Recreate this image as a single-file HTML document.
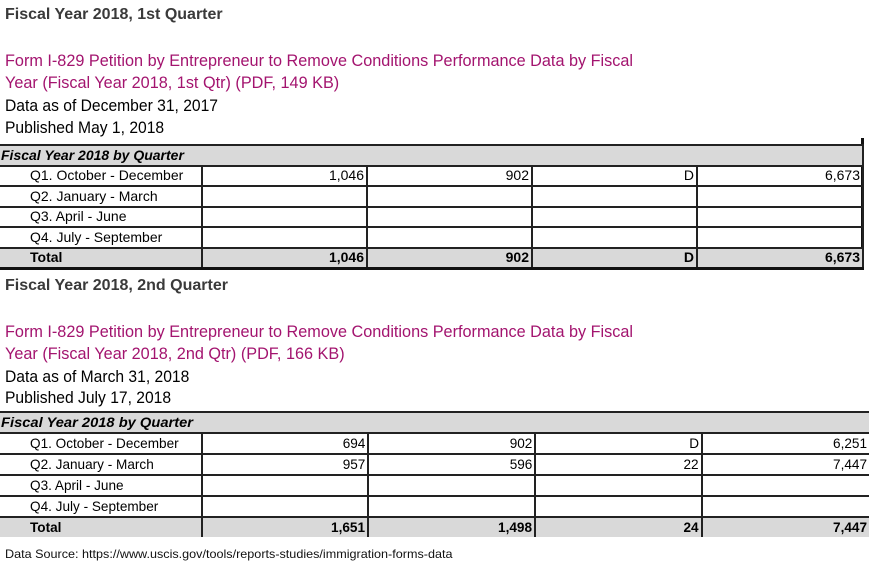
<!DOCTYPE html>
<html><head><meta charset="utf-8"><style>
body{margin:0;width:885px;height:576px;background:#fff;position:relative;overflow:hidden;font-family:"Liberation Sans",sans-serif}
.t{position:absolute;white-space:nowrap;transform-origin:0 50%;line-height:1}
.h{font-weight:bold;color:#3a3a3a;font-size:16px;transform:scaleX(1.0)}
.m{color:#a3146f;font-size:17px;transform:scaleX(.955)}
.k{color:#000;font-size:17px;transform:scaleX(.92)}
table{position:absolute;border-collapse:collapse;table-layout:fixed;font-size:14px}
td{padding:0 2px;height:18.5px;white-space:nowrap;overflow:visible;text-align:right;border:2px solid #222;line-height:17px}
.s2 td{height:19px}
td.l{text-align:left;padding-left:30px;border-left:none}
tr.hd td{background:#d9d9d9;text-align:left;padding-left:1px;font-weight:bold;font-style:italic;font-size:14px;border-left:none}
tr.tot td{background:#d9d9d9;font-weight:bold}
.s1 span{display:inline-block;transform:scaleX(1.0);transform-origin:100% 50%}
.s1 td.l span,.s2 td.l span,tr.hd td span{transform-origin:0 50%}
.s2 span{display:inline-block;transform:scaleX(.97);transform-origin:100% 50%}
.s2 tr.hd td span{transform:scaleX(1.05)}
</style></head><body>
<div class="t h" style="left:5px;top:7px">Fiscal Year 2018, 1st Quarter</div>
<div class="t m" style="left:5px;top:52px">Form I-829 Petition by Entrepreneur to Remove Conditions Performance Data by Fiscal</div>
<div class="t m" style="left:5px;top:74px">Year (Fiscal Year 2018, 1st Qtr) (PDF, 149 KB)</div>
<div class="t k" style="left:5px;top:97px">Data as of December 31, 2017</div>
<div class="t k" style="left:5px;top:119px">Published May 1, 2018</div>
<div style="position:absolute;left:861px;top:138px;width:3px;height:130px;background:#111"></div>
<table class="s1" style="left:0;top:144px;width:863px">
<col style="width:202px"><col style="width:165px"><col style="width:165px"><col style="width:165px"><col style="width:166px">
<tr class="hd"><td colspan="5"><span>Fiscal Year 2018 by Quarter</span></td></tr>
<tr><td class="l"><span>Q1. October - December</span></td><td><span>1,046</span></td><td><span>902</span></td><td><span>D</span></td><td><span>6,673</span></td></tr>
<tr><td class="l"><span>Q2. January - March</span></td><td></td><td></td><td></td><td></td></tr>
<tr><td class="l"><span>Q3. April - June</span></td><td></td><td></td><td></td><td></td></tr>
<tr><td class="l"><span>Q4. July - September</span></td><td></td><td></td><td></td><td></td></tr>
<tr class="tot"><td class="l" style="border-bottom:3px solid #111"><span>Total</span></td><td style="border-bottom:3px solid #111"><span>1,046</span></td><td style="border-bottom:3px solid #111"><span>902</span></td><td style="border-bottom:3px solid #111"><span>D</span></td><td style="border-bottom:3px solid #111"><span>6,673</span></td></tr>
</table>
<div class="t h" style="left:5px;top:278px">Fiscal Year 2018, 2nd Quarter</div>
<div class="t m" style="left:5px;top:323px">Form I-829 Petition by Entrepreneur to Remove Conditions Performance Data by Fiscal</div>
<div class="t m" style="left:5px;top:345px">Year (Fiscal Year 2018, 2nd Qtr) (PDF, 166 KB)</div>
<div class="t k" style="left:5px;top:368px">Data as of March 31, 2018</div>
<div class="t k" style="left:5px;top:389px">Published July 17, 2018</div>
<table class="s2" style="left:0;top:411px;width:869px">
<col style="width:202px"><col style="width:166px"><col style="width:167px"><col style="width:167px"><col style="width:167px">
<tr class="hd"><td colspan="5" style="border-right:none"><span>Fiscal Year 2018 by Quarter</span></td></tr>
<tr><td class="l"><span>Q1. October - December</span></td><td><span>694</span></td><td><span>902</span></td><td><span>D</span></td><td style="border-right:none"><span>6,251</span></td></tr>
<tr><td class="l"><span>Q2. January - March</span></td><td><span>957</span></td><td><span>596</span></td><td><span>22</span></td><td style="border-right:none"><span>7,447</span></td></tr>
<tr><td class="l"><span>Q3. April - June</span></td><td></td><td></td><td></td><td style="border-right:none"></td></tr>
<tr><td class="l"><span>Q4. July - September</span></td><td></td><td></td><td></td><td style="border-right:none"></td></tr>
<tr class="tot"><td class="l" style="border-bottom:none"><span>Total</span></td><td style="border-bottom:none"><span>1,651</span></td><td style="border-bottom:none"><span>1,498</span></td><td style="border-bottom:none"><span>24</span></td><td style="border-bottom:none;border-right:none"><span>7,447</span></td></tr>
</table>
<div class="t" style="left:5px;top:548px;font-size:12px;color:#111;transform:scaleX(1.05)">Data Source: https://www.uscis.gov/tools/reports-studies/immigration-forms-data</div>
</body></html>
